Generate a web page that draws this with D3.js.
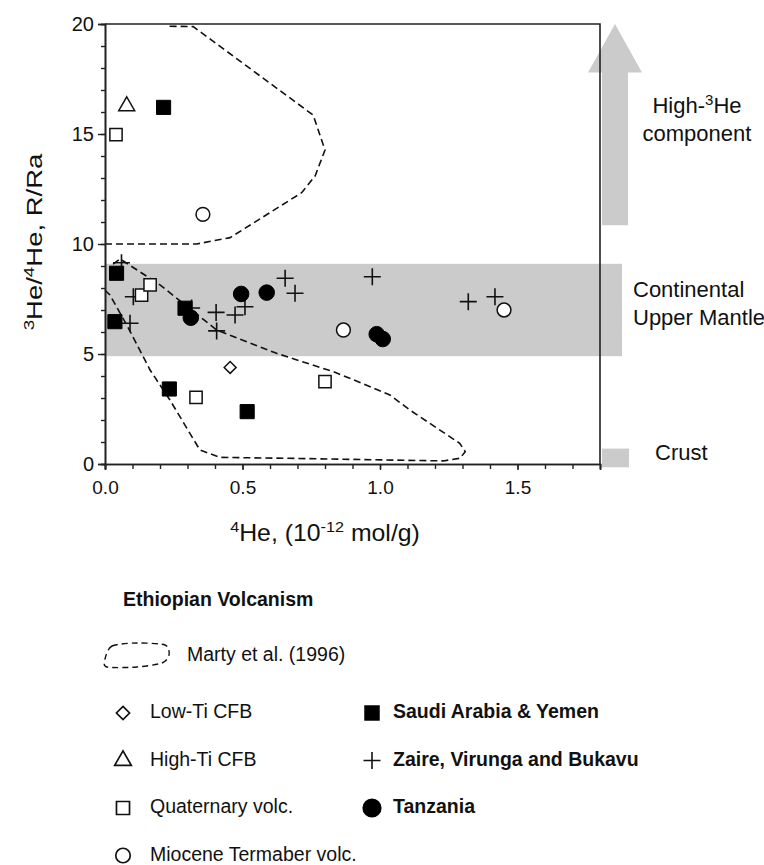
<!DOCTYPE html>
<html>
<head>
<meta charset="utf-8">
<script src="https://cdn.jsdelivr.net/npm/d3@7"></script>
<style>
  body { margin: 0; background: #fff; }
  svg text { font-family: "Liberation Sans", Arial, Helvetica, sans-serif; fill: #111; }
</style>
</head>
<body>
<div id="chart"></div>
<script>
// point data: [4He (1e-12 mol/g), R/Ra]
const lowTi = [[0.455, 4.39]];
const highTi = [[0.079, 16.27]];
const quaternary = [[0.04, 14.97], [0.133, 7.68], [0.164, 8.14], [0.331, 3.03], [0.8, 3.74]];
const miocene = [[0.356, 11.35], [0.867, 6.09], [1.451, 7.0]];
const saudi = [[0.213, 16.21], [0.042, 8.67], [0.036, 6.47], [0.291, 7.08], [0.234, 3.41], [0.517, 2.38]];
const zaire = [[0.06, 9.15], [0.091, 6.4], [0.103, 7.6], [0.315, 7.09], [0.404, 6.89], [0.406, 6.05],
  [0.473, 6.77], [0.509, 7.15], [0.655, 8.44], [0.691, 7.76], [0.972, 8.51], [1.321, 7.38], [1.418, 7.6]];
const tanzania = [[0.312, 6.65], [0.495, 7.73], [0.588, 7.79], [0.988, 5.9], [1.01, 5.68]];

// Marty et al. (1996) fields
const martyUpper = [[0, 10], [0.333, 10], [0.455, 10.29], [0.715, 12.33], [0.764, 13.09], [0.8, 14.27],
  [0.757, 15.86], [0.321, 19.88], [0.235, 19.9]];
const martyLower = [[0, 7.9], [0.018, 7.68], [0.079, 6.32], [0.164, 4.27], [0.236, 2.91], [0.345, 0.64],
  [0.418, 0.3], [0.66, 0.26], [1.23, 0.14], [1.29, 0.26], [1.31, 0.56], [1.29, 0.94], [1.109, 2.45],
  [1.036, 3.14], [0.89, 3.9], [0.829, 4.2], [0.624, 5.03], [0.406, 6.09], [0.2, 8.14], [0.055, 9.32],
  [0.02, 9.0]];

// reference ranges
const mantleBand = [4.9, 9.1];
const crustBand = [-0.15, 0.7];
const arrowRange = [10.85, 20];
const arrowHeadBase = 17.8;

const xMajor = [0, 0.5, 1.0, 1.5];
const xMinor = d3.range(0, 1.81, 0.1);
const yMajor = [0, 5, 10, 15, 20];
const yMinor = d3.range(0, 21, 1);

const width = 764, height = 865;
const svg = d3.select("#chart").append("svg")
  .attr("width", width)
  .attr("height", height);

const x = d3.scaleLinear().domain([0, 1.8]).range([105, 600]);
const y = d3.scaleLinear().domain([0, 20]).range([464, 24]);

const grey = "#cbcbcb";

// continental upper mantle band
svg.append("rect")
  .attr("x", x(0))
  .attr("y", y(mantleBand[1]))
  .attr("width", 622 - x(0))
  .attr("height", y(mantleBand[0]) - y(mantleBand[1]))
  .attr("fill", grey);

// crust bar
svg.append("rect")
  .attr("x", 602)
  .attr("y", y(crustBand[1]))
  .attr("width", 27)
  .attr("height", y(crustBand[0]) - y(crustBand[1]))
  .attr("fill", grey);

// high-3He arrow
const ax = 615;
svg.append("path")
  .attr("d", `M${ax - 13},${y(arrowRange[0])} L${ax - 13},${y(arrowHeadBase)} L${ax - 27},${y(arrowHeadBase)}
    L${ax},${y(arrowRange[1])} L${ax + 27},${y(arrowHeadBase)} L${ax + 13},${y(arrowHeadBase)} L${ax + 13},${y(arrowRange[0])} Z`)
  .attr("fill", grey);

// Marty fields
const line = d3.line().x(d => x(d[0])).y(d => y(d[1]));
[martyUpper, martyLower].forEach(field => {
  svg.append("path")
    .attr("d", line(field))
    .attr("fill", "none").attr("stroke", "#111")
    .attr("stroke-width", 1.6).attr("stroke-dasharray", "7,4");
});

// axes
const axisColor = "#222";
const xAxisMinor = svg.append("g")
  .attr("transform", `translate(0,${y(0)})`)
  .call(d3.axisBottom(x).tickValues(xMinor).tickSize(5).tickFormat(""));
const xAxis = svg.append("g")
  .attr("transform", `translate(0,${y(0)})`)
  .call(d3.axisBottom(x).tickValues(xMajor).tickSize(6).tickPadding(11).tickFormat(d3.format(".1f")));
const yAxisMinor = svg.append("g")
  .attr("transform", `translate(${x(0)},0)`)
  .call(d3.axisLeft(y).tickValues(yMinor).tickSize(4).tickFormat(""));
const yAxis = svg.append("g")
  .attr("transform", `translate(${x(0)},0)`)
  .call(d3.axisLeft(y).tickValues(yMajor).tickSize(7).tickPadding(4).tickFormat(d3.format("d")));

[xAxisMinor, xAxis, yAxisMinor, yAxis].forEach(g => {
  g.select(".domain").attr("stroke", axisColor).attr("stroke-width", 1.6);
  g.selectAll(".tick line").attr("stroke", axisColor).attr("stroke-width", 1.4);
  g.selectAll("text").style("font-size", "19px").attr("fill", "#111");
});
yAxis.selectAll("text").style("font-size", "20px");

// top and right frame
svg.append("path")
  .attr("d", `M${x(0)},${y(20)} H${x(1.8)} V${y(0)}`)
  .attr("fill", "none").attr("stroke", axisColor).attr("stroke-width", 1.6);

// markers
const sym = (type, size) => d3.symbol().type(type).size(size)();
function draw(data, type, size, fill, stroke, sw) {
  svg.append("g").selectAll("path")
    .data(data).enter().append("path")
    .attr("transform", d => `translate(${x(d[0])},${y(d[1])})`)
    .attr("d", sym(type, size))
    .attr("fill", fill).attr("stroke", stroke).attr("stroke-width", sw);
}
const plusPath = "M-8.5,0H8.5M0,-8.5V8.5";
function drawPlus(data) {
  svg.append("g").selectAll("path")
    .data(data).enter().append("path")
    .attr("transform", d => `translate(${x(d[0])},${y(d[1])})`)
    .attr("d", plusPath)
    .attr("fill", "none").attr("stroke", "#111").attr("stroke-width", 1.6);
}

drawPlus(zaire);
draw(saudi, d3.symbolSquare, 200, "#000", "#000", 1);
draw(quaternary, d3.symbolSquare, 150, "#fff", "#111", 1.5);
draw(tanzania, d3.symbolCircle, 190, "#000", "#000", 1);
draw(miocene, d3.symbolCircle, 150, "#fff", "#111", 1.5);
draw(lowTi, d3.symbolDiamond2, 90, "#fff", "#111", 1.5);
draw(highTi, d3.symbolTriangle, 110, "#fff", "#111", 1.5);

// axis titles
svg.append("text")
  .attr("transform", "translate(325,541) scale(1.08,1)")
  .attr("text-anchor", "middle")
  .style("font-size", "23px")
  .html('<tspan dy="-9" style="font-size:15px">4</tspan><tspan dy="9">He, (10</tspan><tspan dy="-9" style="font-size:15px">-12</tspan><tspan dy="9"> mol/g)</tspan>');

svg.append("text")
  .attr("transform", "translate(42,242) rotate(-90) scale(1.25,1)")
  .attr("text-anchor", "middle")
  .style("font-size", "22px")
  .html('<tspan dy="-8" style="font-size:15px">3</tspan><tspan dy="8">He/</tspan><tspan dy="-8" style="font-size:15px">4</tspan><tspan dy="8">He, R/Ra</tspan>');

// right-hand labels
svg.append("text")
  .attr("x", 697).attr("y", 113)
  .attr("text-anchor", "middle")
  .style("font-size", "22px")
  .html('High-<tspan dy="-8" style="font-size:15px">3</tspan><tspan dy="8">He</tspan>');
svg.append("text")
  .attr("x", 697).attr("y", 141)
  .attr("text-anchor", "middle")
  .style("font-size", "22px")
  .text("component");
svg.append("text")
  .attr("x", 633).attr("y", 297)
  .style("font-size", "22px")
  .text("Continental");
svg.append("text")
  .attr("x", 633).attr("y", 325)
  .style("font-size", "22px")
  .text("Upper Mantle");
svg.append("text")
  .attr("x", 655).attr("y", 460)
  .style("font-size", "22px")
  .text("Crust");

// legend
const legend = svg.append("g");
legend.append("text")
  .attr("x", 123).attr("y", 606)
  .style("font-size", "19.5px").style("font-weight", "bold")
  .text("Ethiopian Volcanism");

const blob = [[-32, 4], [-25, -9], [0, -12], [28, -10], [32, 0], [25, 8], [0, 12], [-30, 12]];
legend.append("path")
  .attr("transform", "translate(137,655)")
  .attr("d", d3.line().curve(d3.curveCardinalClosed.tension(0.2))(blob))
  .attr("fill", "none").attr("stroke", "#111")
  .attr("stroke-width", 1.4).attr("stroke-dasharray", "6,4");
legend.append("text")
  .attr("x", 187).attr("y", 661)
  .style("font-size", "19.5px")
  .text("Marty et al. (1996)");

const leftItems = [
  { label: "Low-Ti CFB", type: d3.symbolDiamond2, size: 110 },
  { label: "High-Ti CFB", type: d3.symbolTriangle, size: 120 },
  { label: "Quaternary volc.", type: d3.symbolSquare, size: 170 },
  { label: "Miocene Termaber volc.", type: d3.symbolCircle, size: 165 }
];
const rightItems = [
  { label: "Saudi Arabia & Yemen", type: d3.symbolSquare, size: 240 },
  { label: "Zaire, Virunga and Bukavu", type: null },
  { label: "Tanzania", type: d3.symbolCircle, size: 290 }
];
const rowY = i => 713 + i * 47.5;

leftItems.forEach((d, i) => {
  legend.append("path")
    .attr("transform", `translate(123,${rowY(i)})`)
    .attr("d", sym(d.type, d.size))
    .attr("fill", "#fff").attr("stroke", "#111").attr("stroke-width", 1.7);
  legend.append("text")
    .attr("x", 150).attr("y", rowY(i) + 5)
    .style("font-size", "19.5px")
    .text(d.label);
});
rightItems.forEach((d, i) => {
  const p = legend.append("path")
    .attr("transform", `translate(372,${rowY(i)})`);
  if (d.type) {
    p.attr("d", sym(d.type, d.size)).attr("fill", "#000");
  } else {
    p.attr("d", plusPath).attr("fill", "none").attr("stroke", "#111").attr("stroke-width", 1.6);
  }
  legend.append("text")
    .attr("x", 393).attr("y", rowY(i) + 5)
    .style("font-size", "19.5px").style("font-weight", "bold")
    .text(d.label);
});
</script>
</body>
</html>
